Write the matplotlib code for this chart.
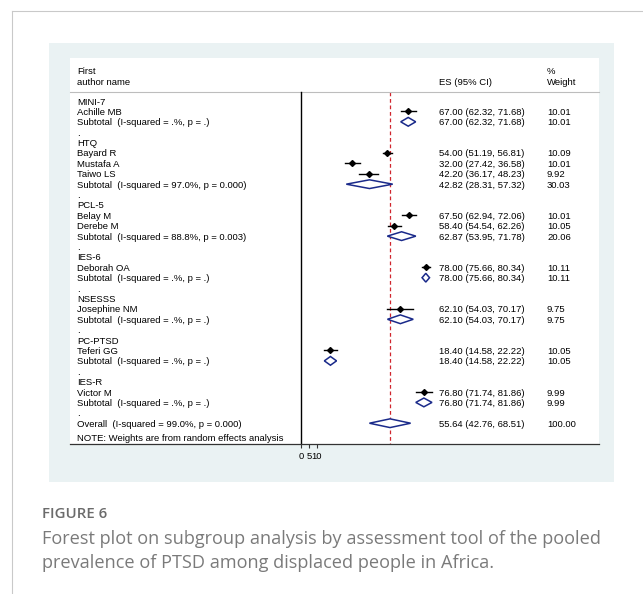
import matplotlib.pyplot as plt
from matplotlib.patches import Rectangle
from matplotlib.lines import Line2D

plt.rcParams['font.family'] = ['Liberation Sans', 'DejaVu Sans']

# ---- data ----
groups = ["MINI-7", "HTQ", "PCL-5", "IES-6", "NSESSS", "PC-PTSD", "IES-R"]

study_names = [
    ["Achille MB"],
    ["Bayard R", "Mustafa A", "Taiwo LS"],
    ["Belay M", "Derebe M"],
    ["Deborah OA"],
    ["Josephine NM"],
    ["Teferi GG"],
    ["Victor M"],
]
study_es = [[67.00], [54.00, 32.00, 42.20], [67.50, 58.40], [78.00], [62.10], [18.40], [76.80]]
study_lo = [[62.32], [51.19, 27.42, 36.17], [62.94, 54.54], [75.66], [54.03], [14.58], [71.74]]
study_hi = [[71.68], [56.81, 36.58, 48.23], [72.06, 62.26], [80.34], [70.17], [22.22], [81.86]]
study_wt = [[10.01], [10.09, 10.01, 9.92], [10.01, 10.05], [10.11], [9.75], [10.05], [9.99]]

sub_es = [67.00, 42.82, 62.87, 78.00, 62.10, 18.40, 76.80]
sub_lo = [62.32, 28.31, 53.95, 75.66, 54.03, 14.58, 71.74]
sub_hi = [71.68, 57.32, 71.78, 80.34, 70.17, 22.22, 81.86]
sub_wt = [10.01, 30.03, 20.06, 10.11, 9.75, 10.05, 9.99]
sub_i2 = [".%", "97.0%", "88.8%", ".%", ".%", ".%", ".%"]
sub_p = [".", "0.000", "0.003", ".", ".", ".", "."]

overall_es, overall_lo, overall_hi = 55.64, 42.76, 68.51
overall_i2, overall_p = "99.0%", "0.000"

xticks = [0, 5, 10]

# ---- figure / page layout (pixels) ----
W, H = 643, 594
fig = plt.figure(figsize=(W / 100, H / 100), dpi=100)
fig.patch.set_facecolor("white")


def fx(px):
    return px / W


def fy(py):
    return 1 - py / H


# page border (left + top)
fig.add_artist(Line2D([fx(12), fx(12)], [fy(11), fy(594)], color="#c9c9c9", lw=0.8, zorder=-5))
fig.add_artist(Line2D([fx(12), 1], [fy(11), fy(11)], color="#c9c9c9", lw=0.8, zorder=-5))
# stata graph region
fig.add_artist(Rectangle((fx(49), fy(482)), fx(614) - fx(49), fy(43) - fy(482),
                         facecolor="#eaf2f3", edgecolor="none", zorder=-5))

ax = fig.add_axes([fx(70), fy(444), fx(599) - fx(70), fy(58) - fy(444)])
ax.set_zorder(2)
ax.set_facecolor("white")

px_per_unit = 1.60
ax.set_xlim((70 - 301) / px_per_unit, (599 - 301) / px_per_unit)
ax.set_ylim(33.0, -4.14)

for s in ["top", "left", "right"]:
    ax.spines[s].set_visible(False)
ax.spines["bottom"].set_color("#333333")
ax.spines["bottom"].set_linewidth(0.9)
ax.set_yticks([])
ax.set_xticks(xticks)
ax.set_xticklabels([str(t) for t in xticks])
ax.tick_params(axis="x", length=3, width=0.8, color="#333333", labelsize=6.8, pad=2.5)

tr = ax.get_yaxis_transform()
X_NAME, X_ES, X_WT = 0.0132, 0.6975, 0.9017
fs = 6.8
navy = "#1a2a8a"
h = 0.42


def txt(x, y, s):
    ax.text(x, y, s, transform=tr, fontsize=fs, va="center_baseline", ha="left", color="black")


def diamond(y, es, lo, hi):
    ax.fill([lo, es, hi, es, lo], [y, y - h, y, y + h, y],
            facecolor="white", edgecolor=navy, lw=1.1, zorder=3)


# header
hdr_line = -0.87
txt(X_NAME, -2.98, "First")
txt(X_NAME, -1.92, "author name")
txt(X_ES, -1.92, "ES (95% CI)")
txt(X_WT, -2.98, "%")
txt(X_WT, -1.92, "Weight")
ax.plot([0, 1], [hdr_line, hdr_line], transform=tr, color="#bdbdbd", lw=0.8, clip_on=False)

# rows
row = 0
for g, grp in enumerate(groups):
    txt(X_NAME, row, grp)
    row += 1
    for name, es, lo, hi, wt in zip(study_names[g], study_es[g], study_lo[g], study_hi[g], study_wt[g]):
        txt(X_NAME, row, name)
        ax.plot([lo, hi], [row, row], color="black", lw=1.0, zorder=3)
        ax.plot(es, row, marker="D", ms=3, color="black", zorder=4)
        txt(X_ES, row, f"{es:.2f} ({lo:.2f}, {hi:.2f})")
        txt(X_WT, row, f"{wt:.2f}")
        row += 1
    txt(X_NAME, row, f"Subtotal  (I-squared = {sub_i2[g]}, p = {sub_p[g]})")
    diamond(row, sub_es[g], sub_lo[g], sub_hi[g])
    txt(X_ES, row, f"{sub_es[g]:.2f} ({sub_lo[g]:.2f}, {sub_hi[g]:.2f})")
    txt(X_WT, row, f"{sub_wt[g]:.2f}")
    row += 1
    txt(X_NAME, row, ".")
    row += 1

txt(X_NAME, row, f"Overall  (I-squared = {overall_i2}, p = {overall_p})")
diamond(row, overall_es, overall_lo, overall_hi)
txt(X_ES, row, f"{overall_es:.2f} ({overall_lo:.2f}, {overall_hi:.2f})")
txt(X_WT, row, "100.00")
txt(X_NAME, row + 1.4, "NOTE: Weights are from random effects analysis")

# reference lines
ax.plot([0, 0], [hdr_line, 33.0], color="black", lw=1.0, zorder=2)
ax.plot([overall_es, overall_es], [hdr_line, 33.0], color="#d0262e", lw=0.9,
        linestyle=(0, (3, 2.2)), zorder=1)

# caption
cap_font = ["Open Sans", "DejaVu Sans"]
fig.text(fx(42), fy(514), "FIGURE 6", fontsize=10.8, fontweight="semibold", color="#6b6b6b",
         family=cap_font, va="center")
fig.text(fx(42), fy(539), "Forest plot on subgroup analysis by assessment tool of the pooled",
         fontsize=13.1, color="#7a7a7a", family=cap_font, va="center")
fig.text(fx(42), fy(563), "prevalence of PTSD among displaced people in Africa.",
         fontsize=13.1, color="#7a7a7a", family=cap_font, va="center")

fig.savefig("out.png", dpi=100)
